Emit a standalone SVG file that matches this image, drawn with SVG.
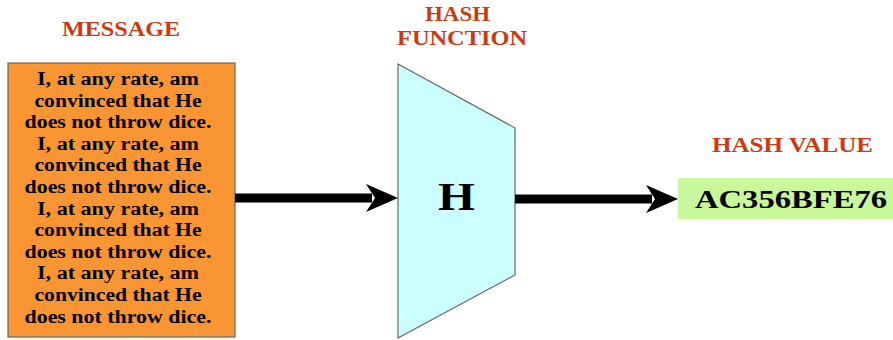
<svg xmlns="http://www.w3.org/2000/svg" width="893" height="340" viewBox="0 0 893 340">
<defs>
<style>
.lbl{font-family:"Liberation Serif","Times New Roman",serif;font-weight:bold;fill:#cc3a12;font-size:21px}
.msg{font-family:"Liberation Serif","Times New Roman",serif;font-weight:bold;fill:#000;font-size:18px;text-anchor:middle}
.big{font-family:"Liberation Serif","Times New Roman",serif;font-weight:bold;fill:#000}
.shaft{stroke:#000;stroke-width:9;fill:none}
.head{fill:#000}
</style>
</defs>
<rect width="893" height="340" fill="#fff"/>
<g id="message">
<text class="lbl" x="62" y="36" textLength="118" lengthAdjust="spacingAndGlyphs">MESSAGE</text>
<rect x="8" y="63" width="227" height="274" fill="#f99633" stroke="#666" stroke-width="1.2"/>
<text class="msg" x="118" y="85" textLength="162" lengthAdjust="spacingAndGlyphs">I, at any rate, am</text>
<text class="msg" x="118" y="106.6" textLength="167" lengthAdjust="spacingAndGlyphs">convinced that He</text>
<text class="msg" x="118" y="128.2" textLength="187" lengthAdjust="spacingAndGlyphs">does not throw dice.</text>
<text class="msg" x="118" y="149.8" textLength="162" lengthAdjust="spacingAndGlyphs">I, at any rate, am</text>
<text class="msg" x="118" y="171.4" textLength="167" lengthAdjust="spacingAndGlyphs">convinced that He</text>
<text class="msg" x="118" y="193" textLength="187" lengthAdjust="spacingAndGlyphs">does not throw dice.</text>
<text class="msg" x="118" y="214.6" textLength="162" lengthAdjust="spacingAndGlyphs">I, at any rate, am</text>
<text class="msg" x="118" y="236.2" textLength="167" lengthAdjust="spacingAndGlyphs">convinced that He</text>
<text class="msg" x="118" y="257.8" textLength="187" lengthAdjust="spacingAndGlyphs">does not throw dice.</text>
<text class="msg" x="118" y="279.4" textLength="162" lengthAdjust="spacingAndGlyphs">I, at any rate, am</text>
<text class="msg" x="118" y="301" textLength="167" lengthAdjust="spacingAndGlyphs">convinced that He</text>
<text class="msg" x="118" y="322.6" textLength="187" lengthAdjust="spacingAndGlyphs">does not throw dice.</text>
</g>
<g id="hash-function">
<text class="lbl" x="425" y="21" textLength="65" lengthAdjust="spacingAndGlyphs">HASH</text>
<text class="lbl" x="397" y="45" textLength="130" lengthAdjust="spacingAndGlyphs">FUNCTION</text>
<polygon points="398,64 515,128 515,275 398,338" fill="#ccffff" stroke="#666" stroke-width="1.2"/>
<text class="big" x="438" y="210" font-size="41" textLength="37" lengthAdjust="spacingAndGlyphs">H</text>
</g>
<g id="hash-value">
<text class="lbl" x="712" y="152" textLength="161" lengthAdjust="spacingAndGlyphs">HASH VALUE</text>
<rect x="678" y="178" width="215" height="41" fill="#c9f79b"/>
<text class="big" x="695" y="208" font-size="26" textLength="192" lengthAdjust="spacingAndGlyphs">AC356BFE76</text>
</g>
<g id="connectors">
<line class="shaft" x1="235" y1="198" x2="372" y2="198"/>
<polygon class="head" points="398,198 366,184 375,198 366,212"/>
<line class="shaft" x1="515" y1="199" x2="652" y2="199"/>
<polygon class="head" points="678,199 646,185 655,199 646,213"/>
</g>
</svg>
